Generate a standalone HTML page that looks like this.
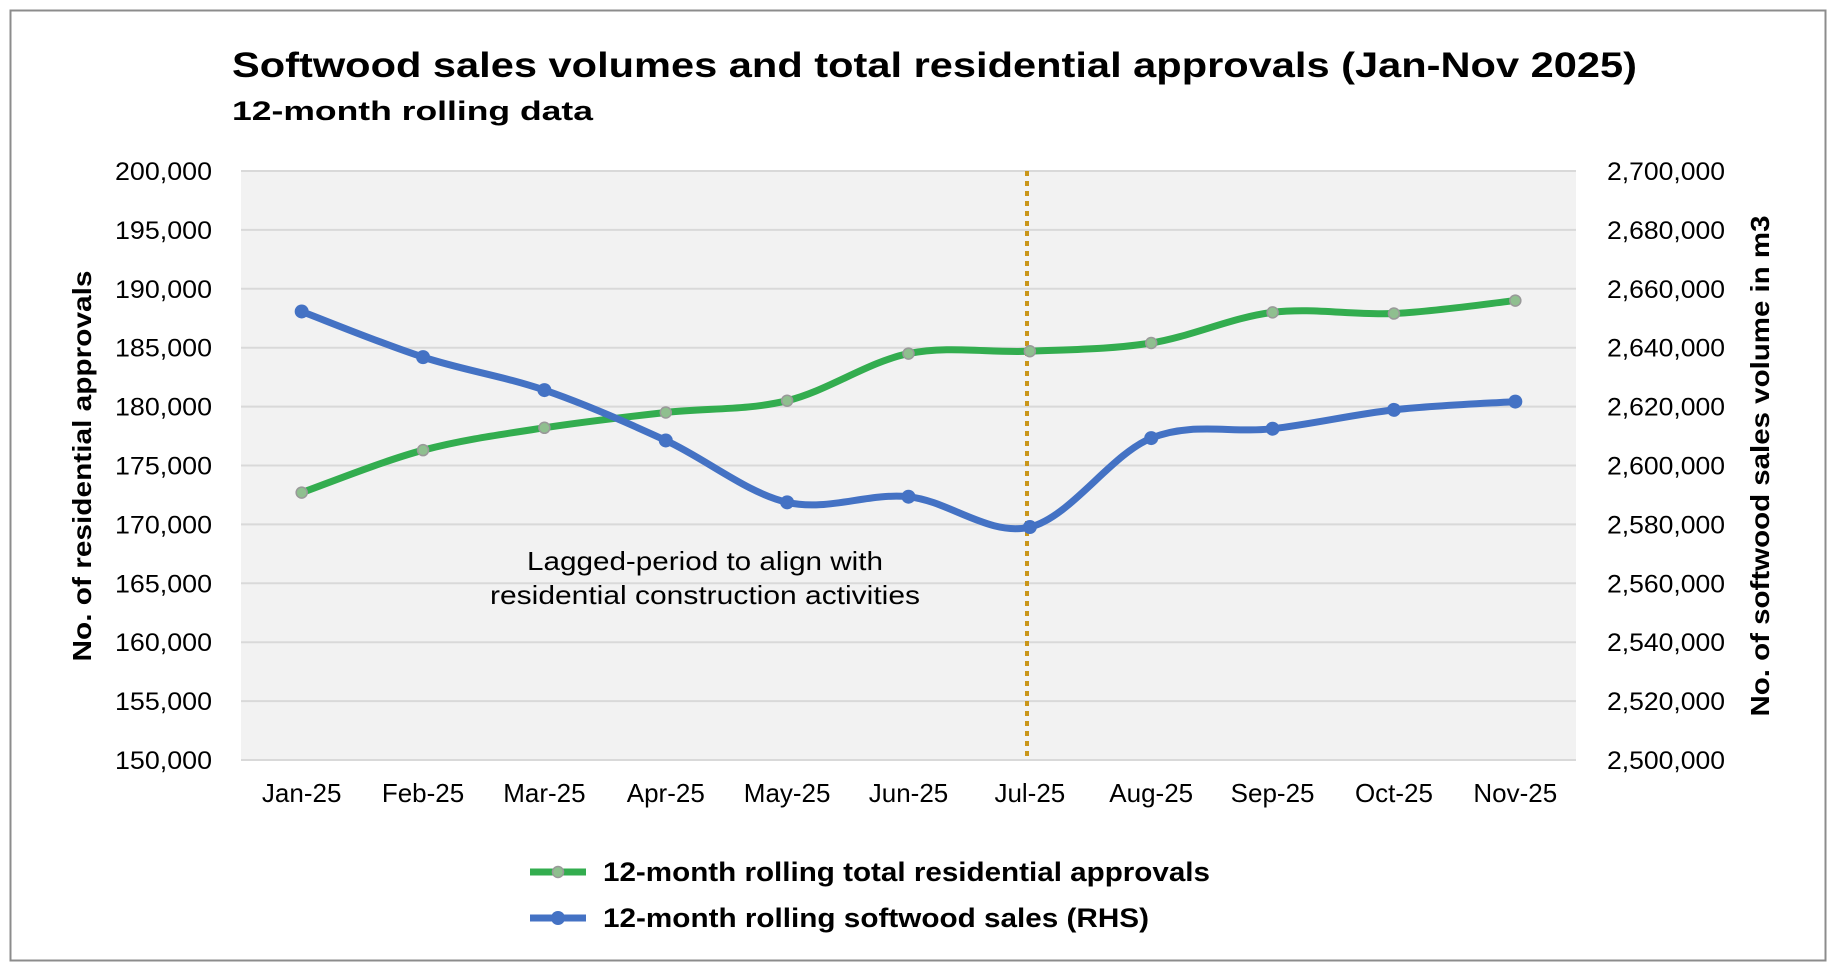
<!DOCTYPE html>
<html><head><meta charset="utf-8"><style>
html,body{margin:0;padding:0;background:#fff;}
svg{display:block;font-family:"Liberation Sans",Arial,sans-serif;}
</style></head><body>
<svg id="s" width="1837" height="970" viewBox="0 0 1837 970" xmlns="http://www.w3.org/2000/svg">
<rect x="0" y="0" width="1837" height="970" fill="#fff"/>
<rect x="10.5" y="10.5" width="1815" height="950" fill="#fff" stroke="#8c8c8c" stroke-width="2"/>
<text x="232" y="77" font-size="35" font-weight="bold" fill="#000" textLength="1405" lengthAdjust="spacingAndGlyphs">Softwood sales volumes and total residential approvals (Jan-Nov 2025)</text>
<text x="232" y="120" font-size="27" font-weight="bold" fill="#000" textLength="361" lengthAdjust="spacingAndGlyphs">12-month rolling data</text>
<rect x="241" y="171" width="1335" height="589" fill="#f2f2f2"/>
<g id="grid" stroke="#d9d9d9" stroke-width="2"></g>
<g id="ylab" font-size="25" fill="#000"></g>
<g id="xlab" font-size="26" fill="#000" text-anchor="middle"></g>
<line x1="1027" y1="171" x2="1027" y2="760" stroke="#c9961a" stroke-width="4" stroke-dasharray="5,5"/>
<text x="705" y="570" font-size="26" text-anchor="middle" fill="#000" textLength="356" lengthAdjust="spacingAndGlyphs">Lagged-period to align with</text>
<text x="705" y="604" font-size="26" text-anchor="middle" fill="#000" textLength="430" lengthAdjust="spacingAndGlyphs">residential construction activities</text>
<text transform="translate(91,466) rotate(-90)" font-size="26" font-weight="bold" text-anchor="middle" textLength="391" lengthAdjust="spacingAndGlyphs">No. of residential approvals</text>
<text transform="translate(1769,466) rotate(-90)" font-size="26" font-weight="bold" text-anchor="middle" textLength="501" lengthAdjust="spacingAndGlyphs">No. of softwood sales volume in m3</text>
<path id="gp" fill="none" stroke="#33ad4f" stroke-width="7" stroke-linecap="round"/>
<path id="bp" fill="none" stroke="#4472c4" stroke-width="7" stroke-linecap="round"/>
<g id="mk"></g>
<line x1="530" y1="872" x2="586" y2="872" stroke="#33ad4f" stroke-width="7"/>
<circle cx="558" cy="872" r="5.5" fill="#8fbf8f" stroke="#999" stroke-width="1.5"/>
<text x="603" y="881" font-size="27" font-weight="bold" textLength="607" lengthAdjust="spacingAndGlyphs">12-month rolling total residential approvals</text>
<line x1="530" y1="918" x2="586" y2="918" stroke="#4472c4" stroke-width="7"/>
<circle cx="558" cy="918" r="7" fill="#4472c4"/>
<text x="603" y="927" font-size="27" font-weight="bold" textLength="546" lengthAdjust="spacingAndGlyphs">12-month rolling softwood sales (RHS)</text>
</svg>
<script>
(function(){
var NS="http://www.w3.org/2000/svg";
function el(p,t,a,txt){var e=document.createElementNS(NS,t);for(var k in a)e.setAttribute(k,a[k]);if(txt!=null)e.textContent=txt;document.getElementById(p).appendChild(e);return e;}
var T=171,B=760,L=241,R=1576;
for(var i=0;i<=10;i++){
 var y=B-i*(B-T)/10;
 el("grid","line",{x1:L,y1:y,x2:R,y2:y});
 el("ylab","text",{x:212,y:y+9,"text-anchor":"end",textLength:97,lengthAdjust:"spacingAndGlyphs"},(150+5*i)+",000");
 el("ylab","text",{x:1607,y:y+9,textLength:118,lengthAdjust:"spacingAndGlyphs"},"2,"+(500+20*i)+",000");
}
var months=["Jan-25","Feb-25","Mar-25","Apr-25","May-25","Jun-25","Jul-25","Aug-25","Sep-25","Oct-25","Nov-25"];
var cw=(R-L)/11;
function X(i){return L+cw/2+i*cw;}
months.forEach(function(m,i){el("xlab","text",{x:X(i),y:802},m);});
var g=[172700,176300,178200,179500,180500,184500,184700,185400,188000,187900,189000];
var b=[2652300,2636800,2625600,2608500,2587500,2589400,2579100,2609300,2612500,2618900,2621700];
function YL(v){return B-(v-150000)/50000*(B-T);}
function YR(v){return B-(v-2500000)/200000*(B-T);}
function path(pts){
 var d="M"+pts[0][0]+","+pts[0][1];
 for(var i=0;i<pts.length-1;i++){
  var p0=pts[i-1]||pts[i],p1=pts[i],p2=pts[i+1],p3=pts[i+2]||p2,t=6;
  d+=" C"+(p1[0]+(p2[0]-p0[0])/t)+","+(p1[1]+(p2[1]-p0[1])/t)+" "+(p2[0]-(p3[0]-p1[0])/t)+","+(p2[1]-(p3[1]-p1[1])/t)+" "+p2[0]+","+p2[1];
 }
 return d;
}
var gp=g.map(function(v,i){return [X(i),YL(v)];});
var bp=b.map(function(v,i){return [X(i),YR(v)];});
document.getElementById("gp").setAttribute("d",path(gp));
document.getElementById("bp").setAttribute("d",path(bp));
gp.forEach(function(p){el("mk","circle",{cx:p[0],cy:p[1],r:5.5,fill:"#8fbf8f",stroke:"#999","stroke-width":1.5});});
bp.forEach(function(p){el("mk","circle",{cx:p[0],cy:p[1],r:7,fill:"#4472c4"});});
})();
</script>
</body></html>
